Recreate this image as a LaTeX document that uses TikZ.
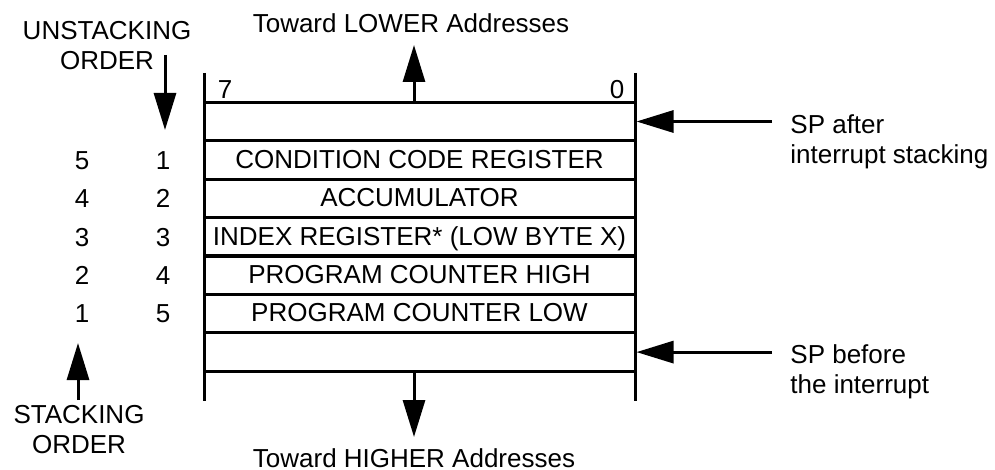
\documentclass[tikz,border=0pt]{standalone}
\usepackage{fontspec}
\setmainfont{Liberation Sans}
\usetikzlibrary{arrows.meta}
\newcommand{\labelfont}{\fontsize{13}{15}\selectfont}
\tikzset{
    slot/.style={
        draw,
        line width=1.5pt,
        minimum width=215.5pt,
        minimum height=19.2pt,
        inner sep=0pt,
        text height=9.3pt,
        text depth=1pt,
        font=\labelfont
    },
    num/.style={
        inner sep=0pt,
        text height=9.3pt,
        text depth=0pt,
        font=\labelfont
    },
    lbl/.style={
        inner sep=0pt,
        align=center,
        font=\labelfont
    },
    arr/.style={
        line width=1.5pt,
        -{Triangle[length=18.5pt,width=11pt]}
    },
    wall/.style={
        line width=1.5pt
    }
}

\begin{document}
\begin{tikzpicture}[x=0.5pt,y=-0.5pt]
    \useasboundingbox (0,0) rectangle (995,470);

    \node[slot] (r0) at (419.5,121.5) {};
    \foreach \k/\txt/\u/\s in {
        1/{CONDITION CODE REGISTER}/1/5,
        2/{ACCUMULATOR}/2/4,
        3/{INDEX REGISTER* (LOW BYTE X)}/3/3,
        4/{PROGRAM COUNTER HIGH}/4/2,
        5/{PROGRAM COUNTER LOW}/5/1
    } {
        \node[slot] (r\k) at (419.5, {121.5+38.43*\k}) {\txt};
        \node[num] (u\k) at (163, {121.5+38.43*\k}) {\u};
        \node[num] (s\k) at (82, {121.5+38.43*\k}) {\s};
    }
    \node[slot] (r6) at (419.5,352.1) {};

    \coordinate (tl) at (204,73);
    \coordinate (bl) at (204,401);
    \coordinate (tr) at (635,73);
    \coordinate (br) at (635,401);
    \draw[wall] (tl) -- (bl);
    \draw[wall] (tr) -- (br);

    \node[num] (b7) at (225,89) {7};
    \node[num] (b0) at (617,89) {0};

    \node[lbl] (lower) at (411,23) {Toward LOWER Addresses};
    \node[lbl] (higher) at (414,458) {Toward HIGHER Addresses};
    \coordinate (lowtip) at (414,45);
    \coordinate (hightip) at (414,437);
    \draw[arr] (r0.north -| lowtip) -- (lowtip);
    \draw[arr] (r6.south -| hightip) -- (hightip);

    \node[lbl] (unstk) at (107,46) {UNSTACKING\\ORDER};
    \node[lbl] (stk) at (79,429.5) {STACKING\\ORDER};
    \coordinate (unstktail) at (165,55);
    \coordinate (unstktip) at (165,130);
    \coordinate (stktail) at (78,400);
    \coordinate (stktip) at (78,343);
    \draw[arr] (unstktail) -- (unstktip);
    \draw[arr] (stktail) -- (stktip);

    \node[lbl,align=left,anchor=north west] (spafter) at (790,114) {SP after\\interrupt stacking};
    \node[lbl,align=left,anchor=north west] (spbefore) at (790,344) {SP before\\the interrupt};
    \coordinate (spafttail) at (772,121.5);
    \coordinate (spbeftail) at (772,352.1);
    \draw[arr] (spafttail) -- (r0.east);
    \draw[arr] (spbeftail) -- (r6.east);
\end{tikzpicture}
\end{document}
